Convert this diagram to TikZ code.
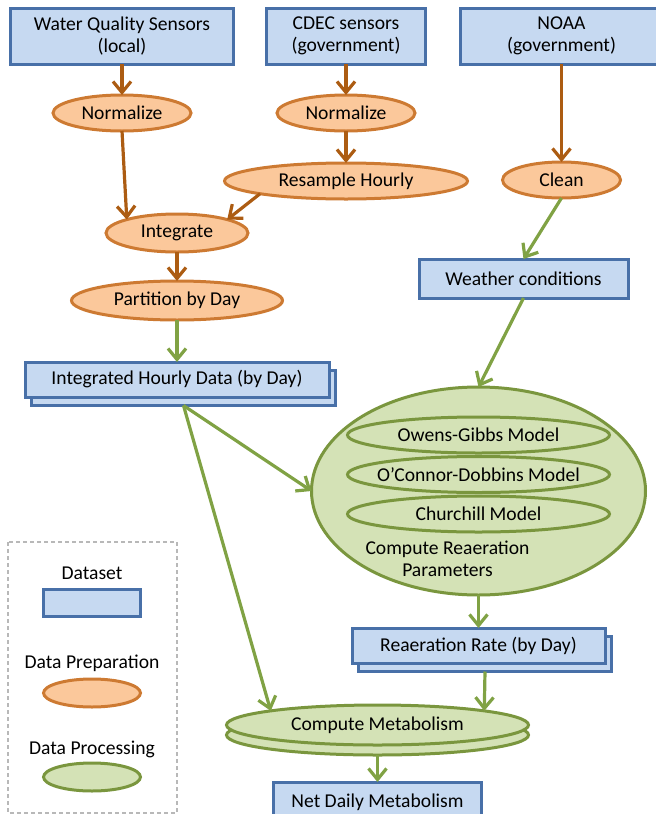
\documentclass[tikz,border=0pt]{standalone}
\usepackage{fontspec}
\setmainfont{Carlito}
\usetikzlibrary{shapes.geometric, arrows.meta, positioning, shadows}
\definecolor{dataFill}{RGB}{198,217,241}
\definecolor{dataEdge}{RGB}{72,112,168}
\definecolor{prepFill}{RGB}{251,200,155}
\definecolor{prepEdge}{RGB}{205,122,50}
\definecolor{prepArrow}{RGB}{172,92,18}
\definecolor{procFill}{RGB}{212,226,182}
\definecolor{procEdge}{RGB}{122,150,62}
\definecolor{procArrow}{RGB}{128,162,68}
\tikzset{
  box/.style={rectangle, draw=dataEdge, fill=dataFill, line width=3pt, inner sep=2pt, outer sep=0pt, align=center},
  prep/.style={ellipse, draw=prepEdge, fill=prepFill, line width=3pt, inner xsep=-12pt, inner ysep=0pt, outer sep=0pt, minimum height=36pt},
  proc/.style={ellipse, draw=procEdge, fill=procFill, line width=3pt, inner xsep=-12pt, inner ysep=0pt, outer sep=0pt},
  stack/.style={copy shadow={shadow xshift=6.5pt, shadow yshift=-8.5pt}},
  arrow/.style={-{Straight Barb[length=11pt, width=18pt]}, line width=3.2pt},
  preparrow/.style={arrow, prepArrow},
  procarrow/.style={arrow, procArrow},
  legendframe/.style={draw=black!28, line width=1.2pt, dash pattern=on 4pt off 3pt},
}
\begin{document}
\begin{tikzpicture}[x=1pt, y=1pt, font=\fontsize{19.6}{21.5}\selectfont]
    \useasboundingbox (0,0) rectangle (656,-814);
    % sources
    \node[box, minimum width=223pt, minimum height=56pt] (wqs) at (122,-36) {Water Quality Sensors\\(local)};
    \node[box, minimum width=159pt, minimum height=56pt, right=33pt of wqs] (cdec) {CDEC sensors\\(government)};
    \node[box, minimum width=202pt, minimum height=56pt, right=35pt of cdec] (noaa) {NOAA\\(government)};
    % preparation
    \node[prep, minimum width=138pt, below=31pt of wqs] (norm1) {Normalize};
    \node[prep, minimum width=138pt, below=31pt of cdec] (norm2) {Normalize};
    \node[prep, minimum width=243pt, below=32pt of norm2] (resample) {Resample Hourly};
    \node[prep, minimum width=118pt, below=98pt of noaa] (clean) {Clean};
    \node[prep, minimum width=142pt, minimum height=38pt, below=83pt of norm1, xshift=55pt] (integrate) {Integrate};
    \node[prep, minimum width=211pt, minimum height=39pt, below=29pt of integrate] (partition) {Partition by Day};
    % datasets
    \node[box, minimum width=209pt, minimum height=39pt, below=61pt of clean, xshift=-38pt] (weather) {Weather conditions};
    \node[box, stack, minimum width=304pt, minimum height=35pt, below=42pt of partition] (hourly) {Integrated Hourly Data (by Day)};
    % reaeration
    \node[proc, minimum width=334pt, minimum height=208pt, below=89pt of weather, xshift=-45pt] (reaer) {};
    \node[proc, minimum width=262pt, minimum height=36pt, below=30pt of reaer.north] (owens) {Owens-Gibbs Model};
    \node[proc, minimum width=262pt, minimum height=36pt, below=3.5pt of owens] (oconnor) {O’Connor-Dobbins Model};
    \node[proc, minimum width=262pt, minimum height=36pt, below=3.5pt of oconnor] (churchill) {Churchill Model};
    \node[align=center, inner sep=0pt] (crp) at ([xshift=-31pt, yshift=-27pt]churchill.south) {Compute Reaeration\\Parameters};
    \node[box, stack, minimum width=253pt, minimum height=35pt, below=33pt of reaer] (rate) {Reaeration Rate (by Day)};
    \node[proc, copy shadow={shadow xshift=0pt, shadow yshift=-10pt}, minimum width=302pt, minimum height=40pt, below=42pt of rate, xshift=-101pt] (metab) {Compute Metabolism};
    \node[box, minimum width=208pt, minimum height=40pt, below=37pt of metab] (net) {Net Daily Metabolism};
    \coordinate (hourlyfoot) at ([xshift=6.5pt, yshift=-8.5pt]hourly.south);
    \coordinate (ratefoot) at ([xshift=6.5pt, yshift=-8.5pt]rate.south);
    \coordinate (metabfoot) at ([yshift=-10pt]metab.south);
    % connectors
    \draw[preparrow] (wqs) -- (norm1);
    \draw[preparrow] (cdec) -- (norm2);
    \draw[preparrow] (norm2) -- (resample);
    \draw[preparrow] (noaa) -- (clean);
    \draw[preparrow] (norm1.south) -- (integrate.north west);
    \draw[preparrow] (resample.south west) -- (integrate.north east);
    \draw[preparrow] (integrate) -- (partition);
    \draw[procarrow] (clean.south) -- (weather.north);
    \draw[procarrow] (partition) -- (hourly);
    \draw[procarrow] (weather.south) -- (reaer.north);
    \draw[procarrow] (hourlyfoot) -- (reaer.west);
    \draw[procarrow] (hourlyfoot) -- (metab.north west);
    \draw[procarrow] (reaer) -- (rate);
    \draw[procarrow] (ratefoot) -- (metab.north east);
    \draw[procarrow] (metabfoot) -- (net);
    % legend
    \draw[legendframe] (8,-542) rectangle (177,-813);
    \node (dslabel) at (92,-573) {Dataset};
    \node[box, minimum width=97pt, minimum height=27pt] (dskey) at (92,-603) {};
    \node (preplabel) at (92,-663) {Data Preparation};
    \node[prep, minimum width=97pt, minimum height=28pt] (prepkey) at (92,-693) {};
    \node (proclabel) at (92,-749) {Data Processing};
    \node[proc, minimum width=97pt, minimum height=28pt] (prockey) at (92,-777) {};
\end{tikzpicture}
\end{document}
